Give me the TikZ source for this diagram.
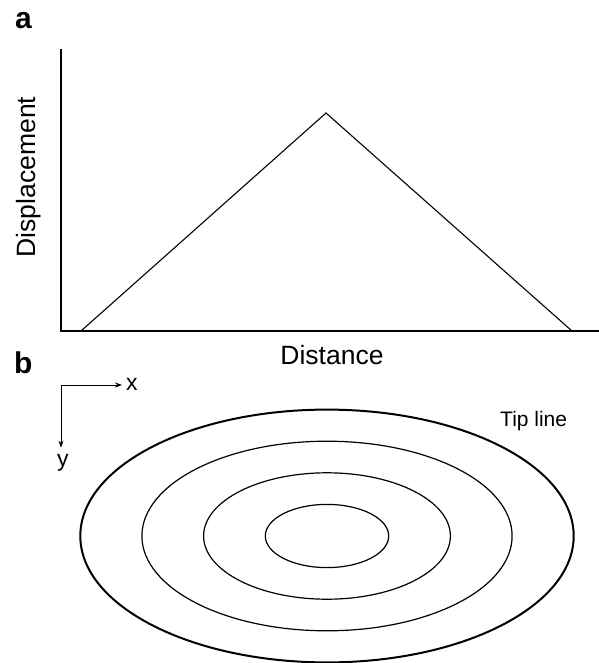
\documentclass[tikz,border=0pt]{standalone}
\usepackage{fontspec}
\setmainfont{Liberation Sans}
\usepackage{tikz}
\usetikzlibrary{arrows.meta}

\begin{document}
\begin{tikzpicture}[x=1pt, y=-1pt,
    achse/.style={line width=2pt, line cap=rect},
    linie/.style={line width=1.1pt},
    pfeil/.style={line width=1pt, -{Stealth[length=7pt, width=5pt]}},
    beschr/.style={font=\fontsize{26.5}{30}\selectfont, inner sep=0pt},
    klein/.style={font=\fontsize{21}{25}\selectfont, inner sep=0pt},
    achsname/.style={font=\fontsize{23}{26}\selectfont, inner sep=0pt},
    panel/.style={font=\fontsize{30}{32}\selectfont\bfseries, inner sep=0pt}
]
  \useasboundingbox (0,0) rectangle (598,663);

  % Panel-Buchstaben
  \node[panel, anchor=base west] (pa) at (15,29) {a};
  \node[panel, anchor=base west] (pb) at (14,373) {b};

  % Achsen von Teil a
  \coordinate (ytop) at (61,50);
  \coordinate (ursprung) at (61,331);
  \coordinate (xend) at (598,331);
  \draw[achse] (ytop) -- (ursprung) -- (xend);

  % Dreieck: Verschiebung entlang der Strecke
  \coordinate (links) at (81,331);
  \coordinate (spitze) at (326,113);
  \coordinate (rechts) at (572,331);
  \draw[linie] (links) -- (spitze) -- (rechts);

  % Achsenbeschriftungen
  \node[beschr, anchor=base] (distanz) at (332,364) {Distance};
  \node[beschr, rotate=90, anchor=base] (versch) at (35,177) {Displacement};

  % Kleines Koordinatensystem in Teil b
  \coordinate (ecke) at (61,385);
  \node[achsname, anchor=base west] (lx) at (126,390) {x};
  \node[achsname, anchor=base west] (ly) at (57,466) {y};
  \draw[pfeil, shorten >=4pt] (ecke) -- (lx.west |- ecke);
  \draw[pfeil] (ecke) -- ([yshift=6pt]ly.north -| ecke);

  % Ellipsen um die Mitte
  \coordinate (mitte) at (327,536);
  \foreach \k in {1,2,3}
    \draw[line width=1.2pt] (mitte) ellipse ({61.7*\k} and {31.6*\k});
  \draw[line width=2pt] (mitte) ellipse (246.7 and 126.4);

  % Spitzenlinie
  \node[klein, anchor=base west] (spitzenlinie) at (500,426) {Tip line};

\end{tikzpicture}
\end{document}
